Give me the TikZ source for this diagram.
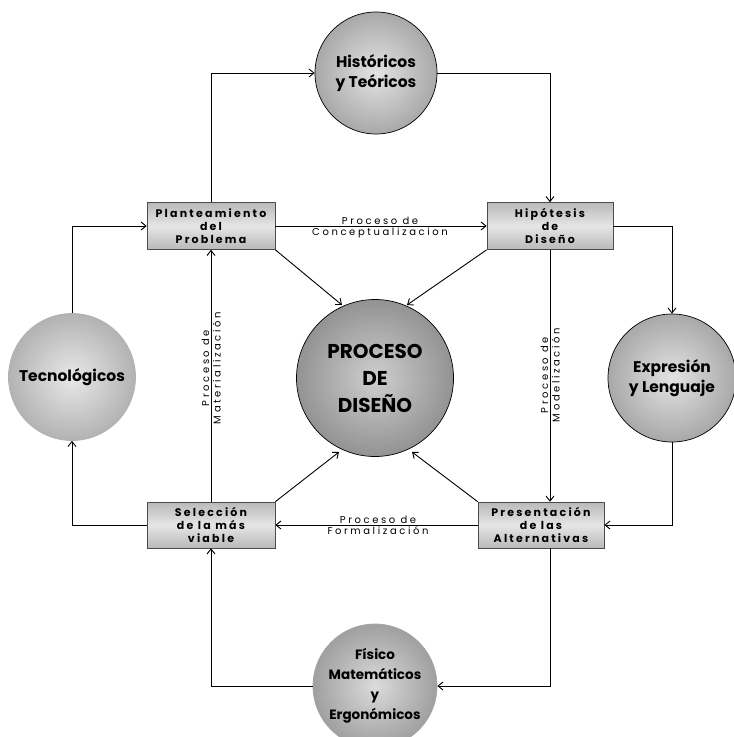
\documentclass[tikz,border=0pt]{standalone}
\usepackage{fontspec}
\setmainfont{Poppins}
\newfontfamily\boxfamily[LetterSpace=20]{Poppins}
\newfontfamily\lblfamily[LetterSpace=26]{Poppins}
\usetikzlibrary{arrows.meta,calc}
\tikzset{
  boxnode/.style={draw=gray!60!black, line width=0.6pt, top color=gray!55, bottom color=gray!55, middle color=gray!20,
    align=center, inner sep=0pt, font=\boxfamily\bfseries\fontsize{11}{12.8}\selectfont},
  circnode/.style={circle, draw=black, line width=0.7pt, inner color=gray!22, outer color=gray!68,
    align=center, inner sep=0pt, font=\bfseries\fontsize{15.5}{20}\selectfont},
  arr/.style={-{Straight Barb[length=5pt,width=8pt,line width=0.9pt]}, line width=0.9pt},
  lbl/.style={font=\lblfamily\fontsize{10}{12}\selectfont, inner sep=1.5pt}
}
\begin{document}
\begin{tikzpicture}[x=1pt,y=-1pt]
\useasboundingbox (0,0) rectangle (734,737);
\fill[white] (0,0) rectangle (734,737);
% boxes
\node[boxnode, minimum width=128pt, minimum height=47pt] (P) at (211,226) {Planteamiento\\del\\Problema};
\node[boxnode, minimum width=126pt, minimum height=47pt] (H) at (550,226) {Hipótesis\\de\\Diseño};
\node[boxnode, minimum width=128pt, minimum height=46pt] (S) at (211,525) {Selección\\de la más\\viable};
\node[boxnode, minimum width=126pt, minimum height=46pt] (A) at (541,525) {Presentación\\de las\\Alternativas};
% circles
\node[circnode, minimum size=122pt] (Hist) at (376,73) {Históricos\\y Teóricos};
\node[circnode, minimum size=157pt, inner color=gray!38, outer color=gray!85, font=\bfseries\fontsize{20}{27}\selectfont] (PD) at (375,378) {PROCESO\\DE\\DISEÑO};
\node[circnode, minimum size=127pt, draw=gray!60, inner color=gray!18, outer color=gray!60] (Tec) at (72,377) {Tecnológicos};
\node[circnode, minimum size=128pt] (Exp) at (672,378) {Expresión\\y Lenguaje};
\node[circnode, minimum size=124pt, draw=gray!70, inner color=gray!28, outer color=gray!75, font=\bfseries\fontsize{13.5}{20}\selectfont] (Fis) at (375,686) {Físico\\Matemáticos\\y\\Ergonómicos};
% outer loop
\draw[arr] (P.north) |- (Hist.west);
\draw[arr] (Hist.east) -| (H.north);
\draw[arr] (H.east) -| (Exp.north);
\draw[arr] (Exp.south) |- (A.east);
\coordinate (Ab) at (A.south -| H.south);
\draw[arr] (Ab) |- (Fis.east);
\draw[arr] (Fis.west) -| (S.south);
\draw[arr] (S.west) -| (Tec.south);
\draw[arr] (Tec.north) |- (P.west);
% inner processes
\draw[arr] (P.east) -- (H.west);
\node[lbl, anchor=south] (l1a) at (380,226) {Proceso de};
\node[lbl, anchor=north] (l1b) at (380,226) {Conceptualizacion};
\draw[arr] (A.west) -- (S.east);
\node[lbl, anchor=south] (l2a) at (378,525) {Proceso de};
\node[lbl, anchor=north] (l2b) at (378,525) {Formalización};
\draw[arr] (S.north) -- (P.south);
\node[lbl, rotate=90, anchor=south] (l3a) at (211,368) {Proceso de};
\node[lbl, rotate=90, anchor=north] (l3b) at (211,368) {Materialización};
\coordinate (At) at (A.north -| H.south);
\draw[arr] (H.south) -- (At);
\node[lbl, rotate=90, anchor=south] (l4a) at (550,375) {Proceso de};
\node[lbl, rotate=90, anchor=north] (l4b) at (550,375) {Modelización};
% diagonals
\coordinate (d1) at (342,305);
\coordinate (d2) at (407,305);
\coordinate (d3) at (339,452);
\coordinate (d4) at (412,452);
\draw[arr] (P.south east) -- (d1);
\draw[arr] (H.south west) -- (d2);
\draw[arr] (S.north east) -- (d3);
\draw[arr] (A.north west) -- (d4);
\end{tikzpicture}
\end{document}
